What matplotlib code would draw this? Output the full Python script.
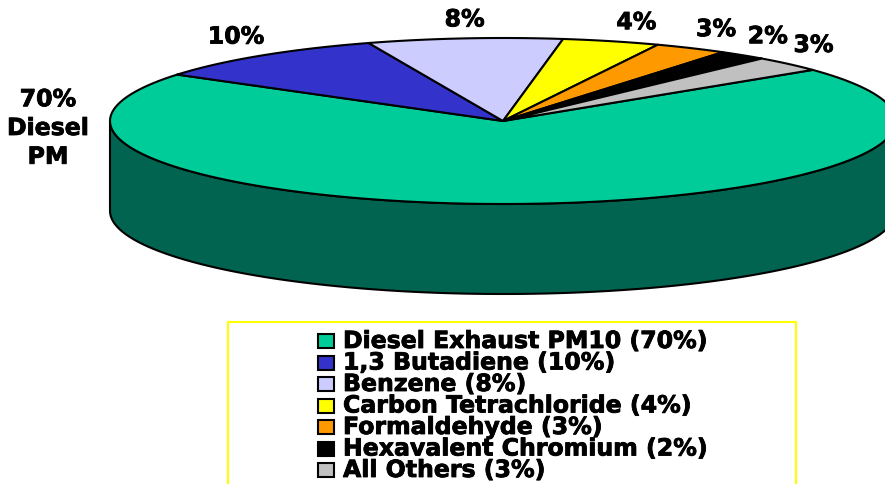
import numpy as np
import matplotlib.pyplot as plt
import matplotlib.patheffects as pe
from matplotlib.patches import Polygon, Rectangle

# data
names = ["Diesel Exhaust PM10", "1,3 Butadiene", "Benzene", "Carbon Tetrachloride",
         "Formaldehyde", "Hexavalent Chromium", "All Others"]
shares = [70, 10, 8, 4, 3, 2, 3]
top_colors = ["#00CC99", "#3333CC", "#CCCCFF", "#FFFF00", "#FF9900", "#000000", "#C0C0C0"]
side_colors = ["#006450", "#1A1A80", "#8080A0", "#A0A000", "#A06000", "#000000", "#808080"]

plt.rcParams['font.family'] = ['DejaVu Sans']

fig = plt.figure(figsize=(8.85, 4.85), dpi=100)
ax = fig.add_axes([0, 0, 1, 1])
ax.set_xlim(0, 885)
ax.set_ylim(485, 0)
ax.axis('off')

# bold text, a touch heavier like the original
tkw = dict(fontsize=17, fontweight='bold',
           path_effects=[pe.withStroke(linewidth=0.6, foreground='black')])

# pie geometry (pixel units)
cx, cy, a, b, depth = 503, 122, 393, 83, 90
start = 38.0  # first slice starts here, going clockwise


def pt(t, dy=0):
    r = np.radians(t)
    return cx + a * np.cos(r), cy - b * np.sin(r) + dy


fracs = np.array(shares) / sum(shares) * 360
ends = start - np.concatenate([[0], np.cumsum(fracs)])

# side walls (front half only: 180..360)
for i in range(len(shares)):
    t1, t0 = ends[i], ends[i + 1]  # t0 < t1
    for k in (-360, 0, 360):
        lo = max(t0 + k, 180)
        hi = min(t1 + k, 360)
        if hi > lo:
            ts = np.linspace(lo, hi, 100)
            upper = [pt(t) for t in ts]
            lower = [pt(t, depth) for t in ts[::-1]]
            ax.add_patch(Polygon(upper + lower, closed=True, fc=side_colors[i],
                                 ec='black', lw=1.5, joinstyle='round'))

# top faces
for i in range(len(shares)):
    ts = np.linspace(ends[i + 1], ends[i], 150)
    verts = [(cx, cy)] + [pt(t) for t in ts]
    ax.add_patch(Polygon(verts, closed=True, fc=top_colors[i], ec='black',
                         lw=1.5, joinstyle='round'))

# percent labels
for i in range(1, len(shares)):
    mid = (ends[i] + ends[i + 1]) / 2
    ex, ey = pt(mid)
    c = np.cos(np.radians(mid))
    dx = 25 * np.sign(c) if abs(c) > 0.2 else 0
    ax.text(ex + dx, ey - 19, f"{shares[i]}%", ha='center', va='center', **tkw)

ax.text(48, 129, f"{shares[0]}%\nDiesel\nPM", ha='center', va='center',
        linespacing=1.25, **tkw)

# legend
ax.add_patch(Rectangle((228, 323), 568, 170, fc='white', ec='#FFFF00', lw=1.5))
row0, step = 342, 21.5
for i, (n, s) in enumerate(zip(names, shares)):
    y = row0 + i * step
    ax.add_patch(Rectangle((318, y - 7), 16, 14, fc=top_colors[i], ec='black', lw=1.5))
    ax.text(343, y, f"{n} ({s}%)", ha='left', va='center', **tkw)

fig.savefig("out.png", dpi=100)
